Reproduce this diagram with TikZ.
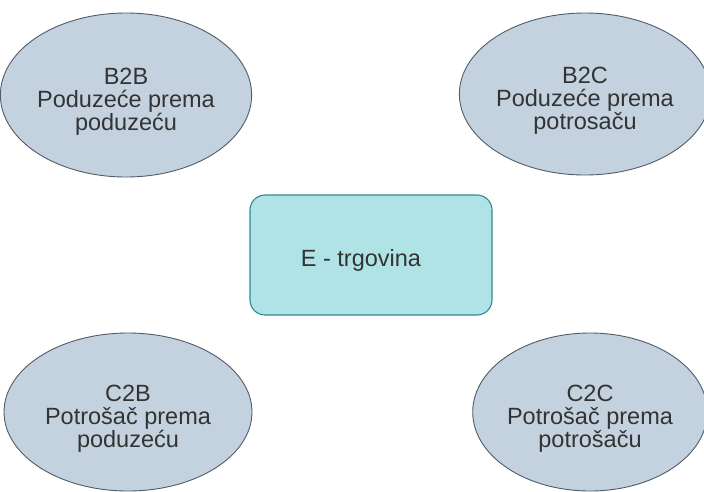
\documentclass[tikz,border=0pt]{standalone}
\usepackage{fontspec}
\setmainfont{Liberation Sans}
\usepackage{xcolor}
\usetikzlibrary{shapes.geometric,positioning}

\definecolor{modelfill}{HTML}{C4D2DF}
\definecolor{modeldraw}{HTML}{505C68}
\definecolor{corefill}{HTML}{B0E3E6}
\definecolor{coredraw}{HTML}{2E8A90}
\definecolor{labeltext}{HTML}{333333}

\newcommand{\topgap}{\rule{0pt}{28pt}}
\newcommand{\modelgap}{\rule{0pt}{30pt}}

\begin{document}
\begin{tikzpicture}[x=1pt, y=-1pt,
    model/.style={ellipse, draw=modeldraw, fill=modelfill, line width=0.9pt, inner sep=0pt, align=center, text=labeltext, font=\fontsize{23.5}{23}\selectfont},
    core/.style={rectangle, rounded corners=15pt, draw=coredraw, fill=corefill, line width=1.1pt, inner sep=0pt, text=labeltext, font=\fontsize{23.5}{23}\selectfont}]
    \useasboundingbox (0,0) rectangle (704,491);

    \node[model, minimum width=244pt, minimum height=164pt] (b2b) at (126, 95) {\modelgap B2B\\Poduzeće prema\\poduzeću};
    \node[model, minimum width=233pt, minimum height=162pt] (b2c) at (585, 94) {\modelgap B2C\\Poduzeće prema\\potrosaču};
    \node[core, minimum width=242pt, minimum height=120pt] (etrg) at (371, 255) {\topgap E - trgovina\hspace*{20pt}};
    \node[model, minimum width=248pt, minimum height=158pt] (c2b) at (128, 412) {\modelgap C2B\\Potrošač prema\\poduzeću};
    \node[model, minimum width=225pt, minimum height=158pt] (c2c) at (590, 412) {\modelgap C2C\\Potrošač prema\\potrošaču};
\end{tikzpicture}
\end{document}
